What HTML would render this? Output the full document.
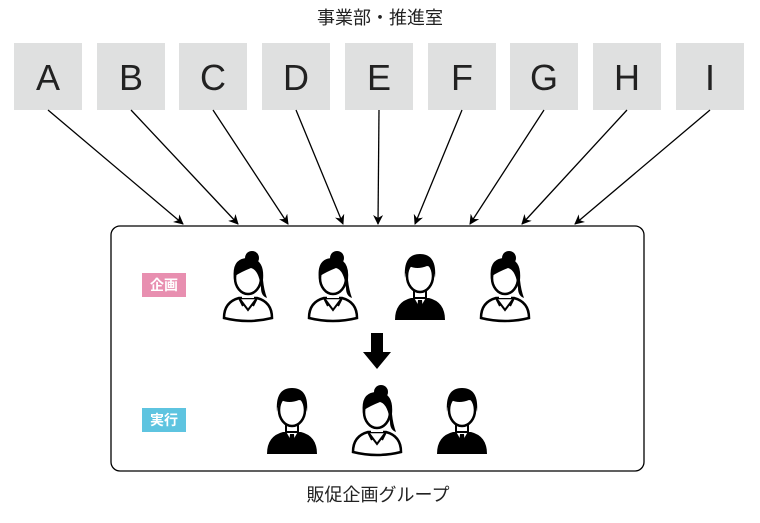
<!DOCTYPE html>
<html><head><meta charset="utf-8"><style>
body{margin:0;background:#fff;width:760px;height:518px;overflow:hidden;font-family:"Liberation Sans","Noto Sans CJK JP",sans-serif}
</style></head><body>
<svg width="760" height="518" xmlns="http://www.w3.org/2000/svg">
<defs>
<marker id="ah" markerWidth="10" markerHeight="10" refX="9" refY="5" orient="auto" markerUnits="userSpaceOnUse">
<path d="M0,0 L10,5 L0,10 L3,5 Z" fill="#000"/></marker>
<g id="man">
<path d="M2,68 Q2,50 18,46 L36,46 Q52,50 52,68 Z" fill="#000"/>
<path d="M19,42 L27,56 L35,42 Z" fill="#fff"/>
<path d="M25,48 L29,48 L30,60 L27,63 L24,60 Z" fill="#000"/>
<rect x="21" y="34" width="12" height="12" fill="#fff" stroke="#000" stroke-width="2"/>
<ellipse cx="27" cy="24" rx="13" ry="16" fill="#fff" stroke="#000" stroke-width="2.5"/>
<path d="M12,26 Q10,2 27,2 Q44,2 42,26 Q40,14 34,14 Q24,18 16,14 Q13,18 12,26 Z" fill="#000"/>
</g>
<g id="woman">
<path d="M3,66 Q3,50 18,46 L36,46 Q51,50 51,66 Q27,72 3,66 Z" fill="#fff" stroke="#000" stroke-width="2.5"/>
<path d="M18,46 L27,58 L36,46 M18,46 L22,54 M36,46 L32,54" fill="none" stroke="#000" stroke-width="2"/>
<rect x="21" y="34" width="12" height="12" fill="#fff"/>
<ellipse cx="27" cy="26" rx="13" ry="16" fill="#fff" stroke="#000" stroke-width="2.5"/>
<circle cx="31" cy="6" r="7" fill="#000"/>
<path d="M13,28 Q10,6 27,6 Q44,6 42,28 Q43,38 46,46 Q40,44 40,36 Q38,18 30,16 Q20,20 14,24 Z" fill="#000"/>
</g>
</defs>
<text x="380" y="24" font-size="18" text-anchor="middle" fill="#222">事業部・推進室</text>
<g fill="#dfe0e0">
<rect x="14" y="43" width="68" height="67"/><rect x="97" y="43" width="68" height="67"/><rect x="179" y="43" width="68" height="67"/>
<rect x="262" y="43" width="68" height="67"/><rect x="345" y="43" width="68" height="67"/><rect x="428" y="43" width="68" height="67"/>
<rect x="510" y="43" width="68" height="67"/><rect x="593" y="43" width="68" height="67"/><rect x="676" y="43" width="68" height="67"/>
</g>
<g font-size="36" text-anchor="middle" fill="#222">
<text x="48" y="90">A</text><text x="131" y="90">B</text><text x="213" y="90">C</text><text x="296" y="90">D</text><text x="379" y="90">E</text><text x="462" y="90">F</text><text x="544" y="90">G</text><text x="627" y="90">H</text><text x="710" y="90">I</text>
</g>
<g stroke="#000" stroke-width="1.3" marker-end="url(#ah)">
<line x1="48" y1="110" x2="183" y2="224"/><line x1="131" y1="110" x2="238" y2="224"/><line x1="213" y1="110" x2="288" y2="224"/>
<line x1="296" y1="110" x2="343" y2="224"/><line x1="379" y1="110" x2="378" y2="224"/><line x1="462" y1="110" x2="415" y2="224"/>
<line x1="544" y1="110" x2="470" y2="224"/><line x1="627" y1="110" x2="522" y2="224"/><line x1="710" y1="110" x2="575" y2="224"/>
</g>
<rect x="111" y="226" width="533" height="245" rx="9" fill="none" stroke="#000" stroke-width="1.3"/>
<rect x="142" y="273" width="44" height="24" fill="#e88fb0"/>
<text x="164" y="290" font-size="14" font-weight="bold" text-anchor="middle" fill="#fff">企画</text>
<rect x="142" y="408" width="44" height="24" fill="#5ec4e0"/>
<text x="164" y="425" font-size="14" font-weight="bold" text-anchor="middle" fill="#fff">実行</text>
<use href="#woman" x="221" y="252"/><use href="#woman" x="306" y="252"/><use href="#man" x="393" y="252"/><use href="#woman" x="478" y="252"/>
<path d="M371,333 L383,333 L383,352 L391,352 L377,369 L363,352 L371,352 Z" fill="#000"/>
<use href="#man" x="265" y="386"/><use href="#woman" x="350" y="386"/><use href="#man" x="435" y="386"/>
<text x="378" y="501" font-size="18" text-anchor="middle" fill="#222">販促企画グループ</text>
</svg>
</body></html>
